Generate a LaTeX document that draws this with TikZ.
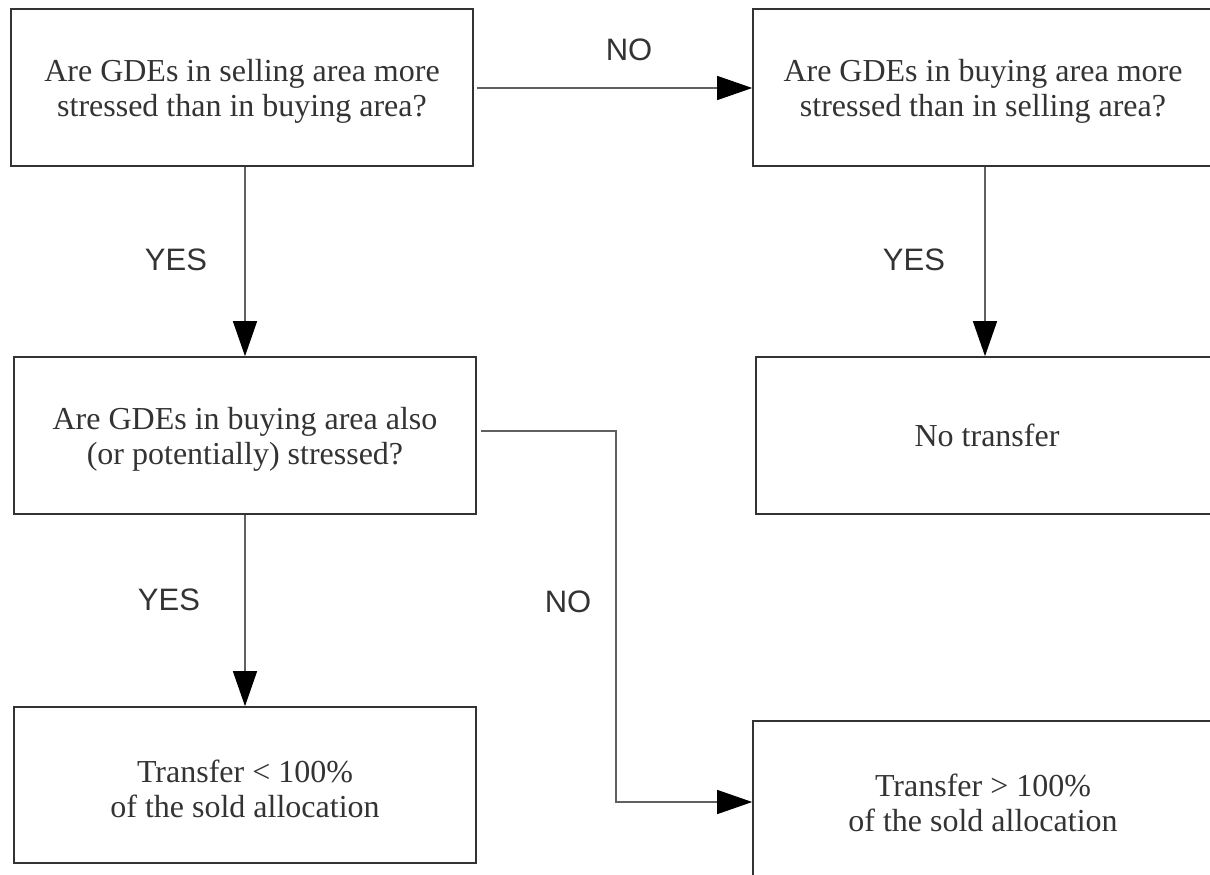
\documentclass[tikz,border=0pt]{standalone}
\usepackage{fontspec}
\setmainfont{Liberation Serif}
\newfontfamily\labelfont{Liberation Sans}
\usetikzlibrary{arrows.meta}
\definecolor{txtcol}{HTML}{333333}
\definecolor{boxcol}{HTML}{333333}
\definecolor{linecol}{HTML}{606060}
\newcommand{\toppad}{\rule{0pt}{30pt}}
\begin{document}
\begin{tikzpicture}[x=1pt,y=1pt,
  box/.style={draw=boxcol, line width=1.6pt, minimum width=462pt, minimum height=157pt,
    align=center, inner sep=0pt, text=txtcol, font=\fontsize{32}{35}\selectfont},
  conn/.style={draw=linecol, line width=1.3pt,
    -{Triangle[length=35pt,width=24pt,fill=black,color=black]}},
  lbl/.style={text=txtcol, font=\labelfont\fontsize{31}{34}\selectfont, inner sep=0pt}]
\useasboundingbox (0,0) rectangle (1210,-875);
\node[box] (b1) at (242,-87.5) {\toppad Are GDEs in selling area more\\stressed than in buying area?};
\node[box, minimum width=460pt] (b2) at (983,-87.5) {\toppad Are GDEs in buying area more\\stressed than in selling area?};
\node[box] (b3) at (245,-435.5) {\toppad Are GDEs in buying area also\\(or potentially) stressed?};
\node[box] (b4) at (987,-435.5) {No transfer};
\node[box, minimum height=156pt] (b5) at (245,-785) {\toppad Transfer < 100\%\\of the sold allocation};
\node[box, minimum width=460pt] (b6) at (983,-799.5) {\toppad Transfer > 100\%\\of the sold allocation};
\coordinate (k1) at (616,-431);
\coordinate (k2) at (616,-802);
\draw[conn, shorten <=3pt] (b1.east |- 0,-88) -- (b2.west |- 0,-88);
\draw[conn] (b3.north |- b1.south) -- (b3.north);
\draw[conn] (985,0 |- b2.south) -- (985,0 |- b4.north);
\draw[conn] (b3.south) -- (b5.north);
\draw[conn, shorten <=4pt] (b3.east |- k1) -- (k1) -- (k2) -- (b6.west |- k2);
\node[lbl] (l1) at (629,-50) {NO};
\node[lbl] (l2) at (176,-260) {YES};
\node[lbl] (l3) at (914,-260) {YES};
\node[lbl] (l4) at (169,-600) {YES};
\node[lbl] (l5) at (568,-602) {NO};
\end{tikzpicture}
\end{document}
